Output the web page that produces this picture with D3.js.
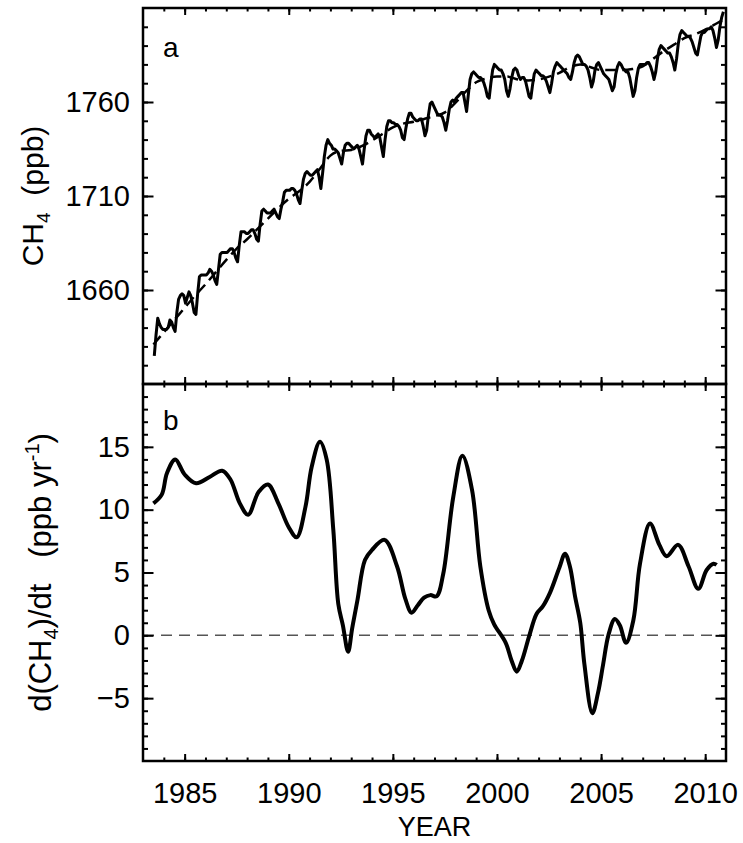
<!DOCTYPE html>
<html>
<head>
<meta charset="utf-8">
<script src="https://cdn.jsdelivr.net/npm/d3@7"></script>
<style>
  body { margin: 0; background: #fff; }
  svg { display: block; }
  text { font-family: "Liberation Sans", Arial, Helvetica, sans-serif; fill: #000; }
</style>
</head>
<body>
<svg id="chart" width="743" height="843"></svg>
<script>
// x axis (both panels)
const yearDomain = [1983, 2011];
const yearTicks = [1985, 1990, 1995, 2000, 2005, 2010];

// panel a: monthly global CH4 (ppb), first value is July 1983
const ch4StartYear = 1983;
const ch4StartMonth = 7;
const ch4Monthly = [
    1625, 1636, 1645, 1642, 1640, 1639,
    1639, 1639, 1640, 1644, 1643, 1640, 1638, 1648, 1655, 1657, 1658, 1657,
    1653, 1656, 1659, 1657, 1653, 1648, 1647, 1658, 1667, 1668, 1668, 1668,
    1668, 1669, 1671, 1670, 1668, 1665, 1663, 1671, 1679, 1680, 1680, 1680,
    1680, 1681, 1682, 1682, 1680, 1677, 1675, 1684, 1691, 1691, 1691, 1690,
    1690, 1691, 1692, 1692, 1690, 1687, 1686, 1695, 1702, 1703, 1702, 1701,
    1701, 1701, 1702, 1703, 1701, 1699, 1698, 1703, 1707, 1712, 1713, 1713,
    1713, 1714, 1714, 1713, 1711, 1708, 1706, 1713, 1719, 1722, 1723, 1722,
    1721, 1721, 1722, 1723, 1724, 1720, 1714, 1722, 1731, 1737, 1740, 1738,
    1737, 1735, 1735, 1734, 1733, 1730, 1727, 1733, 1737, 1738, 1738, 1737,
    1736, 1735, 1736, 1737, 1735, 1731, 1727, 1735, 1742, 1745, 1745, 1743,
    1742, 1741, 1742, 1743, 1741, 1736, 1731, 1740, 1747, 1750, 1750, 1749,
    1749, 1748, 1748, 1747, 1745, 1741, 1740, 1746, 1751, 1754, 1754, 1752,
    1751, 1750, 1750, 1751, 1751, 1747, 1742, 1745, 1753, 1759, 1760, 1758,
    1756, 1754, 1753, 1753, 1752, 1749, 1745, 1750, 1756, 1760, 1761, 1760,
    1762, 1763, 1764, 1765, 1765, 1760, 1755, 1764, 1772, 1775, 1776, 1775,
    1774, 1773, 1773, 1772, 1770, 1767, 1763, 1762, 1770, 1777, 1780, 1779,
    1778, 1777, 1777, 1775, 1772, 1766, 1763, 1767, 1773, 1777, 1778, 1777,
    1774, 1772, 1773, 1773, 1771, 1767, 1763, 1762, 1769, 1775, 1777, 1776,
    1775, 1774, 1774, 1773, 1771, 1768, 1765, 1770, 1776, 1779, 1781, 1780,
    1779, 1778, 1777, 1776, 1775, 1773, 1772, 1776, 1781, 1784, 1785, 1784,
    1782, 1780, 1780, 1779, 1777, 1773, 1768, 1771, 1777, 1780, 1781, 1779,
    1777, 1775, 1774, 1773, 1772, 1769, 1766, 1768, 1775, 1779, 1781, 1780,
    1778, 1777, 1776, 1776, 1773, 1768, 1763, 1766, 1773, 1778, 1780, 1780,
    1780, 1780, 1781, 1781, 1779, 1776, 1772, 1776, 1783, 1788, 1790, 1789,
    1788, 1787, 1786, 1786, 1784, 1781, 1777, 1783, 1791, 1796, 1798, 1797,
    1796, 1795, 1795, 1794, 1792, 1789, 1786, 1785, 1790, 1795, 1797, 1797,
    1798, 1799, 1799, 1800, 1798, 1794, 1789, 1793, 1800, 1805, 1808
];

// panel a: deseasonalised trend (dashed)
const trendYears = [
    1983.5, 1984.0, 1984.5, 1985.0, 1985.5, 1986.0, 1986.5, 1987.0, 1987.5, 1988.0,
    1988.5, 1989.0, 1989.5, 1990.0, 1990.5, 1991.0, 1991.5, 1992.0, 1992.5, 1993.0,
    1993.5, 1994.0, 1994.5, 1995.0, 1995.5, 1996.0, 1996.5, 1997.0, 1997.5, 1998.0,
    1998.5, 1999.0, 1999.5, 2000.0, 2000.5, 2001.0, 2001.5, 2002.0, 2002.5, 2003.0,
    2003.5, 2004.0, 2004.5, 2005.0, 2005.5, 2006.0, 2006.5, 2007.0, 2007.5, 2008.0,
    2008.5, 2009.0, 2009.5, 2010.0, 2010.5, 2010.9
];
const trendValues = [
    1631, 1637.5, 1644, 1650.5, 1657, 1663, 1669.5, 1676, 1682, 1687,
    1692.5, 1698, 1703.5, 1708.5, 1712.5, 1717.5, 1724.5, 1731.5, 1734, 1734.5,
    1736.5, 1739.5, 1743, 1746.5, 1748.5, 1749.5, 1751, 1752.5, 1754.5, 1759.5,
    1765.5, 1770.5, 1772.5, 1773.5, 1773.5, 1772, 1771.5, 1772, 1773.5, 1775.5,
    1778.5, 1780, 1778.5, 1777, 1777, 1777, 1777.5, 1779, 1783, 1787,
    1790.5, 1794, 1796, 1798.5, 1801.5, 1804
];
const ch4Domain = [1610, 1810];
const ch4Ticks = [1660, 1710, 1760];
const ch4MinorTicks = d3.range(1620, 1810, 10);

// panel b: growth rate d(CH4)/dt (ppb/yr)
const rateYears = [
    1983.5, 1983.9, 1984.15, 1984.55, 1985.0, 1985.55, 1986.2, 1986.8, 1987.2, 1987.65,
    1988.05, 1988.55, 1989.0, 1989.5, 1990.0, 1990.38, 1990.8, 1991.1, 1991.5, 1991.82,
    1992.14, 1992.38, 1992.6, 1992.85, 1993.05, 1993.3, 1993.66, 1994.0, 1994.6, 1995.2,
    1995.6, 1995.9, 1996.2, 1996.5, 1996.8, 1997.1, 1997.42, 1997.9, 1998.34, 1998.8,
    1999.2, 1999.6, 1999.86, 2000.42, 2000.7, 2000.95, 2001.2, 2001.54, 2001.9, 2002.2,
    2002.55, 2003.0, 2003.27, 2003.5, 2003.75, 2004.0, 2004.2, 2004.58, 2004.85, 2005.1,
    2005.35, 2005.66, 2005.9, 2006.2, 2006.55, 2006.87, 2007.35, 2007.8, 2008.15, 2008.7,
    2009.2, 2009.67, 2010.07, 2010.4, 2010.55
];
const rateValues = [
    10.5, 11.2, 12.9, 14.0, 12.8, 12.1, 12.6, 13.1, 12.4, 10.5,
    9.6, 11.4, 12.0, 10.5, 8.6, 7.8, 10.2, 13.4, 15.4, 14.0,
    8.4, 2.5, 0.8, -1.3, 0.6, 2.8, 6.0, 6.8, 7.6, 5.5,
    2.9, 1.8, 2.4, 3.0, 3.2, 3.1, 4.9, 11.0, 14.3, 11.6,
    5.5, 2.0, 0.9, -0.6, -2.0, -2.9, -2.0, -0.1, 1.7, 2.3,
    3.4, 5.4, 6.5, 5.5, 3.1, 1.0, -2.3, -6.2, -4.6, -2.3,
    0.0, 1.3, 0.8, -0.6, 1.2, 5.7, 8.9, 7.2, 6.3, 7.2,
    5.5, 3.7, 5.2, 5.7, 5.6
];
const rateDomain = [-10, 20];
const rateTicks = [-5, 0, 5, 10, 15];
const rateMinorTicks = d3.range(-9, 20, 1);

const svg = d3.select("#chart");
const left = 143, right = 726;
const topA = 8, bottomA = 384, bottomB = 761;
const fontSize = 29;

const x = d3.scaleLinear().domain(yearDomain).range([left, right]);
const yA = d3.scaleLinear().domain(ch4Domain).range([bottomA, topA]);
const yB = d3.scaleLinear().domain(rateDomain).range([bottomB, bottomA]);

const yearMinor = d3.range(1984, 2011, 1);

// inward ticks on one side of a panel
function ticks(axis, pos, values, size, labels, pad) {
    const a = axis.tickValues(values).tickSizeInner(-size).tickSizeOuter(0);
    if (!labels) a.tickFormat("");
    else a.tickFormat(d3.format("d")).tickPadding(pad);
    const g = svg.append("g").attr("transform", pos).call(a);
    g.select(".domain").remove();
    g.selectAll(".tick line").attr("stroke", "#000").attr("stroke-width", 2);
    g.selectAll(".tick text")
        .attr("fill", "#000")
        .style("font-size", fontSize + "px")
        .style("font-family", "Liberation Sans, Arial, sans-serif");
    return g;
}

function frame(y, top, bottom, yMajor, yMinor, xLabels) {
    // x ticks
    ticks(d3.axisBottom(x), `translate(0,${bottom})`, yearMinor, 3.5, false);
    ticks(d3.axisBottom(x), `translate(0,${bottom})`, yearTicks, 7, xLabels, 21);
    ticks(d3.axisTop(x), `translate(0,${top})`, yearMinor, 3.5, false);
    ticks(d3.axisTop(x), `translate(0,${top})`, yearTicks, 7, false);
    // y ticks
    ticks(d3.axisLeft(y), `translate(${left},0)`, yMinor, 5, false);
    ticks(d3.axisLeft(y), `translate(${left},0)`, yMajor, 10.5, true, 13);
    ticks(d3.axisRight(y), `translate(${right},0)`, yMinor, 5, false);
    ticks(d3.axisRight(y), `translate(${right},0)`, yMajor, 10.5, false);

    svg.append("rect")
        .attr("x", left).attr("y", top)
        .attr("width", right - left).attr("height", bottom - top)
        .attr("fill", "none").attr("stroke", "#000").attr("stroke-width", 2.5);
}

// ---- panel a ----
const monthly = ch4Monthly.map((v, i) => ({
    t: ch4StartYear + (ch4StartMonth - 1 + i + 0.5) / 12,
    v: v
}));

svg.append("path")
    .datum(monthly)
    .attr("fill", "none")
    .attr("stroke", "#000")
    .attr("stroke-width", 3)
    .attr("stroke-linejoin", "round")
    .attr("d", d3.line().x(d => x(d.t)).y(d => yA(d.v)));

svg.append("path")
    .datum(trendYears.map((t, i) => ({ t: t, v: trendValues[i] })))
    .attr("fill", "none")
    .attr("stroke", "#000")
    .attr("stroke-width", 2.5)
    .attr("stroke-dasharray", "11,6")
    .attr("d", d3.line().curve(d3.curveMonotoneX).x(d => x(d.t)).y(d => yA(d.v)));

frame(yA, topA, bottomA, ch4Ticks, ch4MinorTicks, false);

svg.append("text")
    .attr("x", 163).attr("y", 57)
    .style("font-size", "28px")
    .text("a");

const titleA = svg.append("text")
    .attr("transform", `translate(43,${(topA + bottomA) / 2}) rotate(-90)`)
    .attr("text-anchor", "middle")
    .style("font-size", "30px");
titleA.append("tspan").text("CH");
titleA.append("tspan").attr("dy", 7).style("font-size", "19px").text("4");
titleA.append("tspan").attr("dy", -7).text("\u00a0 (ppb)");

// ---- panel b ----
svg.append("line")
    .attr("x1", left).attr("x2", right)
    .attr("y1", yB(0)).attr("y2", yB(0))
    .attr("stroke", "#555")
    .attr("stroke-width", 1.5)
    .attr("stroke-dasharray", "11,7");

svg.append("path")
    .datum(rateYears.map((t, i) => ({ t: t, v: rateValues[i] })))
    .attr("fill", "none")
    .attr("stroke", "#000")
    .attr("stroke-width", 4)
    .attr("stroke-linejoin", "round")
    .attr("d", d3.line().curve(d3.curveCatmullRom.alpha(0.5)).x(d => x(d.t)).y(d => yB(d.v)));

frame(yB, bottomA, bottomB, rateTicks, rateMinorTicks, true);

svg.append("text")
    .attr("x", 163).attr("y", 430)
    .style("font-size", "28px")
    .text("b");

const titleB = svg.append("text")
    .attr("transform", `translate(51,${(bottomA + bottomB) / 2}) rotate(-90)`)
    .attr("text-anchor", "middle")
    .style("font-size", "31px");
titleB.append("tspan").text("d(CH");
titleB.append("tspan").attr("dy", 7).style("font-size", "20px").text("4");
titleB.append("tspan").attr("dy", -7).text(")/dt\u00a0\u00a0 (ppb yr");
titleB.append("tspan").attr("dy", -12).style("font-size", "20px").text("-1");
titleB.append("tspan").attr("dy", 12).text(")");

svg.append("text")
    .attr("x", (left + right) / 2).attr("y", 836)
    .attr("text-anchor", "middle")
    .style("font-size", "27px")
    .text("YEAR");
</script>
</body>
</html>
